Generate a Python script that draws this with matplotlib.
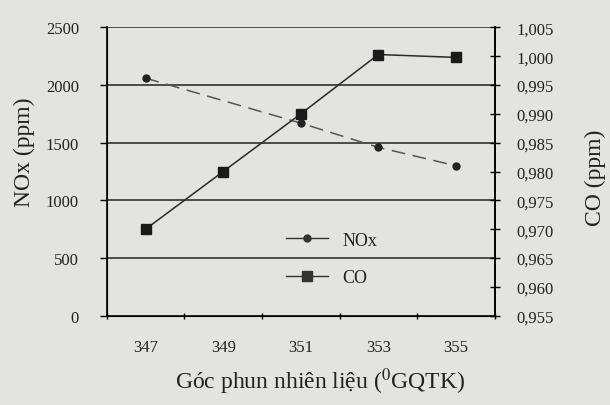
import matplotlib.pyplot as plt
from matplotlib.lines import Line2D
from matplotlib.ticker import FuncFormatter, MultipleLocator

angle = [347, 349, 351, 353, 355]
nox_angle = [347, 351, 353, 355]
nox = [2060, 1670, 1460, 1300]
co = [0.970, 0.980, 0.990, 1.0003, 0.9998]

plt.rcParams['font.family'] = ['Liberation Serif', 'DejaVu Serif']
plt.rcParams['mathtext.fontset'] = 'stix'

bg = '#e3e3e0'
txt = '#222222'
fig = plt.figure(figsize=(6.1, 4.06), dpi=100, facecolor=bg)
ax = fig.add_axes([0.175, 0.22, 0.636, 0.71])
ax.set_facecolor(bg)

ax.set_xlim(346, 356)
ax.set_ylim(0, 2500)
ax.set_yticks([0, 500, 1000, 1500, 2000, 2500])
ax.set_xticks(angle)
ax.xaxis.set_minor_locator(MultipleLocator(2))
ax.tick_params(axis='x', which='major', length=0, pad=17, labelsize=12, labelcolor=txt)
ax.tick_params(axis='x', which='minor', length=5, direction='inout', width=1)
ax.tick_params(axis='y', length=5, direction='out', width=1, labelsize=12, pad=15,
               labelcolor=txt)
for y in [500, 1000, 1500, 2000, 2500]:
    ax.axhline(y, color='#4a4a4a', lw=1.4, zorder=1)
for s in ['left', 'bottom', 'right']:
    ax.spines[s].set_linewidth(1.2)
ax.spines['top'].set_visible(False)

ax.plot(nox_angle, nox, color='#555555', lw=1.1, dashes=(9, 5),
        marker='o', ms=5, mfc='#222222', mec='#222222', zorder=3)

ax2 = ax.twinx()
ax2.set_ylim(0.955, 1.005)
ax2.set_yticks([0.955 + 0.005 * i for i in range(11)])
ax2.yaxis.set_major_formatter(FuncFormatter(lambda v, p: f'{v:.3f}'.replace('.', ',')))
ax2.tick_params(axis='y', length=7, direction='inout', width=1, labelsize=12, pad=12,
                labelcolor=txt)
ax2.spines['top'].set_visible(False)
ax2.spines['right'].set_linewidth(1.2)
ax2.plot(angle, co, color='#2a2a2a', lw=1.1, marker='s', ms=7,
         mfc='#1a1a1a', mec='#1a1a1a', zorder=3)

fig.text(24 / 610, 1 - 152 / 406, 'NOx (ppm)', rotation=90, ha='center', va='center',
         fontsize=17, color=txt)
fig.text(595 / 610, 1 - 178 / 406, 'CO (ppm)', rotation=90, ha='center', va='center',
         fontsize=17, color=txt)
fig.text(320 / 610, 1 - 382 / 406, r'Góc phun nhiên liệu ($^{0}$GQTK)', ha='center',
         va='center', fontsize=17, color=txt)

handles = [Line2D([], [], color='#333333', lw=1, marker='o', ms=5),
           Line2D([], [], color='#333333', lw=1, marker='s', ms=7)]
leg = ax2.legend(handles, ['NOx', 'CO'], loc='center', bbox_to_anchor=(0.58, 0.197),
                 frameon=False, fontsize=13, handlelength=2.3, handletextpad=0.8,
                 labelspacing=1.15)
for t in leg.get_texts():
    t.set_color(txt)

fig.savefig('out.png', dpi=100, facecolor=bg)
